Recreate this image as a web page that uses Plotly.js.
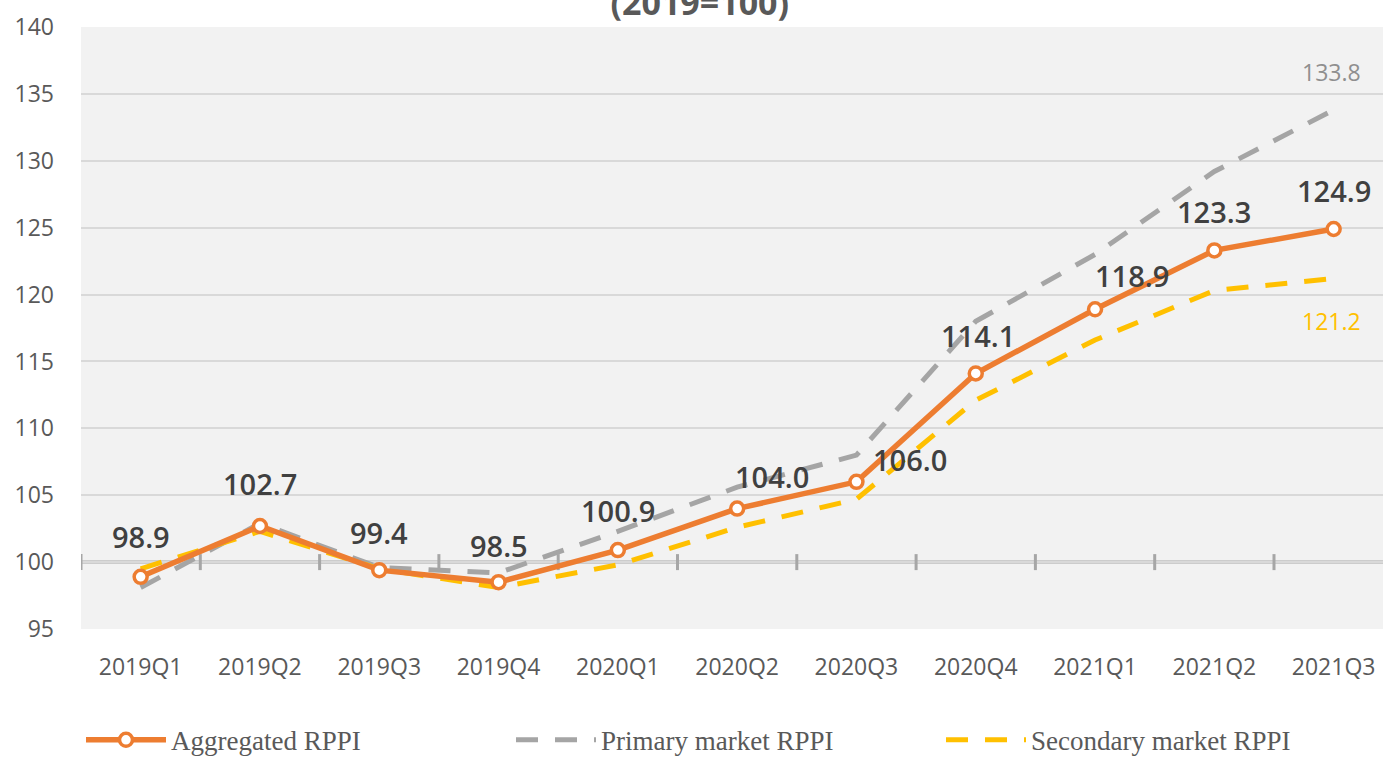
<!DOCTYPE html>
<html>
<head>
<meta charset="utf-8">
<script src="https://cdn.plot.ly/plotly-3.0.1.min.js"></script>
<style>html,body{margin:0;padding:0;background:#fff;}#chart{width:1383px;height:760px;}</style>
</head>
<body>
<div id="chart"></div>
<script>
// ---- data ----
var categories = ['2019Q1','2019Q2','2019Q3','2019Q4','2020Q1','2020Q2','2020Q3','2020Q4','2021Q1','2021Q2','2021Q3'];
var aggregated = [98.9, 102.7, 99.4, 98.5, 100.9, 104.0, 106.0, 114.1, 118.9, 123.3, 124.9];
var primary    = [98.1, 102.9, 99.6, 99.2, 102.3, 105.6, 108.0, 118.0, 123.0, 129.2, 133.8];
var secondary  = [99.5, 102.3, 99.5, 98.1, 99.8, 102.6, 104.7, 112.1, 116.6, 120.3, 121.2];
var seriesNames = ['Aggregated RPPI', 'Primary market RPPI', 'Secondary market RPPI'];
var yTicks = [95, 100, 105, 110, 115, 120, 125, 130, 135, 140];
var baseValue = 100;
var titleText = '(2019=100)';

// ---- label placement (pixels, style only) ----
var labelDx = [0, 0, 0, 0, 0, 35, 54, 2, 37, 0, 0];
var labelDy = [40, 42, 38, 37, 40, 32, 22, 38, 34, 39, 39];

var ORANGE = '#ED7D31', GREY = '#A5A5A5', YELLOW = '#FFC000';
var FONT = 'Open Sans, Noto Sans, sans-serif';

var traces = [
  {
    x: categories, y: aggregated, name: seriesNames[0], type: 'scatter', mode: 'lines+markers',
    line: {color: ORANGE, width: 5.5},
    marker: {symbol: 'circle', size: 13, color: '#ffffff', line: {color: ORANGE, width: 3.5}},
    hoverinfo: 'skip', legendrank: 1
  },
  {
    x: categories, y: primary, name: seriesNames[1], type: 'scatter', mode: 'lines',
    line: {color: GREY, width: 5, dash: '22px,17px'}, hoverinfo: 'skip', legendrank: 2
  },
  {
    x: categories, y: secondary, name: seriesNames[2], type: 'scatter', mode: 'lines',
    line: {color: YELLOW, width: 5, dash: '22px,17px'}, hoverinfo: 'skip', legendrank: 3
  }
];
// draw aggregated on top: reorder drawing while keeping legend rank
traces = [traces[1], traces[2], traces[0]];

var annotations = aggregated.map(function (v, i) {
  return {
    x: categories[i], y: v, xref: 'x', yref: 'y', text: v.toFixed(1), showarrow: false,
    xshift: labelDx[i], yshift: labelDy[i], yanchor: 'middle', xanchor: 'center',
    font: {family: FONT, size: 29, color: '#404040', weight: 600}
  };
});
var last = categories.length - 1;
annotations.push({
  x: categories[last], y: primary[last], xref: 'x', yref: 'y', text: primary[last].toFixed(1),
  showarrow: false, yshift: 38, xshift: -2, font: {family: FONT, size: 23, color: '#8f8f8f'}
});
annotations.push({
  x: categories[last], y: secondary[last], xref: 'x', yref: 'y', text: secondary[last].toFixed(1),
  showarrow: false, yshift: -42, xshift: -2, font: {family: FONT, size: 23, color: YELLOW}
});

var shapes = [{
  type: 'line', xref: 'paper', x0: 0, x1: 1, yref: 'y', y0: baseValue, y1: baseValue,
  line: {color: '#A6A6A6', width: 3}, layer: 'between'
}];
categories.forEach(function (c, i) {
  shapes.push({
    type: 'line', xref: 'x', x0: i - 0.5, x1: i - 0.5,
    yref: 'y', ysizemode: 'pixel', yanchor: baseValue, y0: -8, y1: 8,
    line: {color: '#A6A6A6', width: 3}, layer: 'between'
  });
});

var catWidthPx = 119.3;
var plotWidth = 1383 - 81;
var layout = {
  width: 1383, height: 760,
  margin: {l: 81, r: 0, t: 27, b: 131, pad: 0, autoexpand: false},
  paper_bgcolor: '#ffffff', plot_bgcolor: '#F2F2F2',
  title: {
    text: titleText, xref: 'container', yref: 'container', x: 0.506, y: 0.996,
    xanchor: 'center', yanchor: 'middle',
    font: {family: FONT, size: 34, color: '#595959', weight: 700}
  },
  xaxis: {
    type: 'category', range: [-0.5, -0.5 + plotWidth / catWidthPx],
    showgrid: false, zeroline: false, showline: false, ticks: '',
    tickfont: {family: FONT, size: 23, color: '#595959'}, ticklabelstandoff: 22,
    fixedrange: true
  },
  yaxis: {
    range: [95, 140], tickmode: 'array', tickvals: yTicks, ticktext: yTicks.map(String),
    showgrid: true, gridcolor: '#D9D9D9', gridwidth: 2, zeroline: false, showline: false,
    ticks: '', tickfont: {family: FONT, size: 23, color: '#595959'}, ticklabelstandoff: 26,
    fixedrange: true
  },
  showlegend: true,
  legend: {
    orientation: 'h', x: 0.0, xanchor: 'left', yref: 'container', y: 0.026, yanchor: 'middle',
    font: {family: 'Liberation Serif, serif', size: 27, color: '#595959'},
    itemwidth: 80, entrywidth: 335, entrywidthmode: 'pixels', traceorder: 'normal',
    bgcolor: 'rgba(0,0,0,0)'
  },
  annotations: annotations,
  shapes: shapes
};

Plotly.newPlot('chart', traces, layout, {displayModeBar: false, staticPlot: true});
</script>
</body>
</html>
